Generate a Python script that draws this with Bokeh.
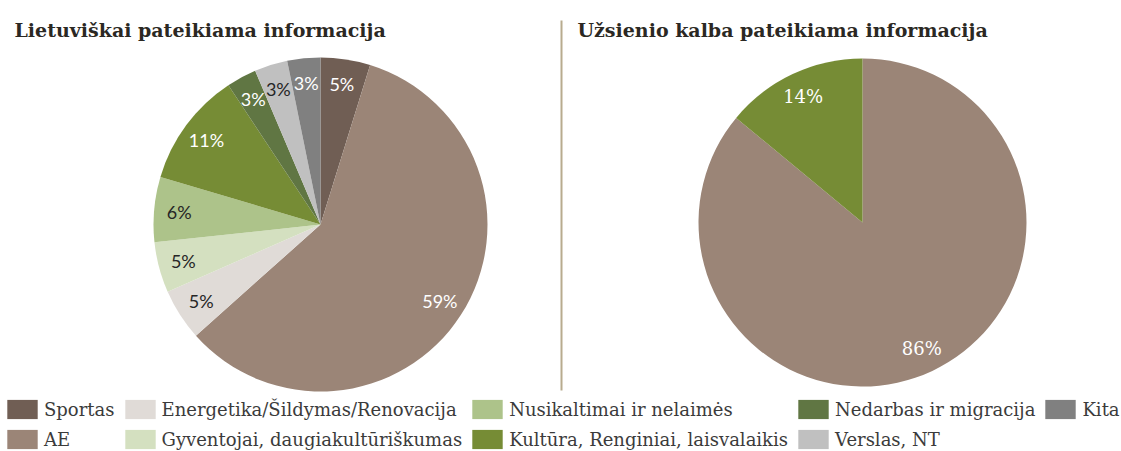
import math
from bokeh.plotting import figure
from bokeh.models import ColumnDataSource, Range1d, Label, Legend, LegendItem
from bokeh.core.properties import value
from bokeh.embed import file_html
from bokeh.resources import INLINE

# ---------------- data ----------------
categories = [
    "Sportas",
    "AE",
    "Energetika/Šildymas/Renovacija",
    "Gyventojai, daugiakultūriškumas",
    "Nusikaltimai ir nelaimės",
    "Kultūra, Renginiai, laisvalaikis",
    "Nedarbas ir migracija",
    "Verslas, NT",
    "Kita",
]
left_values = [4.8, 58.6, 5.0, 4.9, 6.3, 11.1, 2.9, 3.2, 3.2]
right_categories = ["AE", "Kultūra, Renginiai, laisvalaikis"]
right_values = [86, 14]
left_title = "Lietuviškai pateikiama informacija"
right_title = "Užsienio kalba pateikiama informacija"

# ---------------- styles ----------------
palette = {
    "Sportas": "#705e54",
    "AE": "#9b8577",
    "Energetika/Šildymas/Renovacija": "#e0dbd7",
    "Gyventojai, daugiakultūriškumas": "#d4e0c0",
    "Nusikaltimai ir nelaimės": "#adc38a",
    "Kultūra, Renginiai, laisvalaikis": "#768c35",
    "Nedarbas ir migracija": "#607643",
    "Verslas, NT": "#c0c0c0",
    "Kita": "#808080",
}
label_color = {
    "Sportas": "white",
    "AE": "white",
    "Energetika/Šildymas/Renovacija": "#262626",
    "Gyventojai, daugiakultūriškumas": "#262626",
    "Nusikaltimai ir nelaimės": "#262626",
    "Kultūra, Renginiai, laisvalaikis": "white",
    "Nedarbas ir migracija": "white",
    "Verslas, NT": "#262626",
    "Kita": "white",
}

W, H = 1121, 451
PAGE_H = 451  # reference coordinates (page y grows downward)


def py(y):
    return PAGE_H - y


def pie_source(cats, vals, cx, cy, r, label_frac=0.85):
    total = float(sum(vals))
    starts, ends, lx, ly, texts, cols, tcols = [], [], [], [], [], [], []
    cum = 0.0
    for c, v in zip(cats, vals):
        a0 = math.pi / 2 - 2 * math.pi * (cum + v) / total
        a1 = math.pi / 2 - 2 * math.pi * cum / total
        cum += v
        mid = (a0 + a1) / 2
        starts.append(a0)
        ends.append(a1)
        lx.append(cx + label_frac * r * math.cos(mid))
        ly.append(cy + label_frac * r * math.sin(mid))
        texts.append(f"{round(v / total * 100)}%")
        cols.append(palette[c])
        tcols.append(label_color[c])
    return ColumnDataSource(dict(
        cat=list(cats), x=[cx] * len(cats), y=[cy] * len(cats),
        start=starts, end=ends, lx=lx, ly=ly, text=texts,
        color=cols, tcolor=tcols,
    ))


p = figure(width=W, height=H, output_backend="svg", toolbar_location=None,
           x_range=Range1d(0, W), y_range=Range1d(PAGE_H - H, PAGE_H),
           x_axis_type=None, y_axis_type=None, min_border=0,
           outline_line_color=None)
p.grid.visible = False

# left pie
L_CX, L_CY, L_R = 320, py(224), 167
src_l = pie_source(categories, left_values, L_CX, L_CY, L_R)
wl = p.wedge(x="x", y="y", radius=L_R, start_angle="start", end_angle="end",
             direction="anticlock", fill_color="color", line_color=None, source=src_l)
p.text(x="lx", y="ly", text="text", source=src_l, text_color="tcolor",
       text_align="center", text_baseline="middle",
       text_font=value("Lato"), text_font_size="18px")

# right pie
R_CX, R_CY, R_R = 862, py(222), 164
src_r = pie_source(right_categories, right_values, R_CX, R_CY, R_R)
p.wedge(x="x", y="y", radius=R_R, start_angle="start", end_angle="end",
        direction="anticlock", fill_color="color", line_color=None, source=src_r)
p.text(x="lx", y="ly", text="text", source=src_r, text_color="white",
       text_align="center", text_baseline="middle",
       text_font=value("DejaVu Serif"), text_font_size="18px")

# divider
p.segment(x0=[561], y0=[py(20)], x1=[561], y1=[py(390)], line_color="#b8ab8e", line_width=2)

# titles
for tx, t in ((14, left_title), (577, right_title)):
    p.add_layout(Label(x=tx, y=py(29), text=t, text_baseline="middle",
                       text_font="DejaVu Serif", text_font_style="bold",
                       text_font_size="19px", text_color="#2b2823"))

# legend
items = [LegendItem(label=c, renderers=[wl], index=i) for i, c in enumerate(categories)]
legend = Legend(items=items, orientation="vertical", nrows=2,
                glyph_width=38, glyph_height=24, label_standoff=3, spacing=6,
                padding=0, margin=0, location=(3, 0),
                border_line_color=None, background_fill_alpha=0,
                label_text_font="DejaVu Serif", label_text_font_size="18px",
                label_text_color="#3b3b3b", label_height=20)
p.add_layout(legend)

open("out.html", "w").write(file_html(p, INLINE))
